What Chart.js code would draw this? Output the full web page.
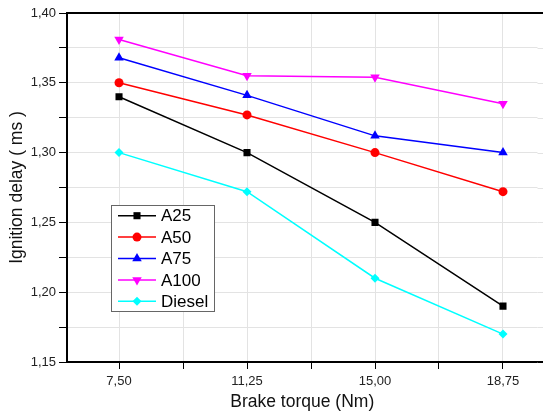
<!DOCTYPE html>
<html>
<head>
<meta charset="utf-8">
<script src="https://cdn.jsdelivr.net/npm/chart.js"></script>
<style>
html,body{margin:0;padding:0;background:#fff;overflow:hidden}
#wrap{position:relative;width:543px;height:411px}
</style>
</head>
<body>
<div id="wrap"><canvas id="grafico"></canvas></div>
<script>
// dados
const torque = [7.5, 11.25, 15.0, 18.75]
const gradeX = [7.5, 9.375, 11.25, 13.125, 15.0, 16.875, 18.75]
const a25 = [1.340, 1.300, 1.250, 1.190]
const a50 = [1.350, 1.327, 1.300, 1.272]
const a75 = [1.368, 1.341, 1.312, 1.300]
const a100 = [1.381, 1.355, 1.354, 1.335]
const diesel = [1.300, 1.272, 1.210, 1.170]
const nomes = ['A25', 'A50', 'A75', 'A100', 'Diesel']
const series = [a25, a50, a75, a100, diesel]

const cores = ['#000000', '#ff0000', '#0000ff', '#ff00ff', '#00ffff']
const marcadores = ['rect', 'circle', 'triangle', 'triangle', 'rectRot']
const rotacoes = [0, 0, 0, 180, 0]
const raios = [5, 4.5, 5.5, 5.5, 4.5]

const fonte = "'Liberation Sans', Arial, 'Noto Sans CJK SC', sans-serif"
const corGrade = '#e3e3e3'

function virgula(v){
  return v.toFixed(2).replace('.', ',')
}

const datasets = series.map(function(valores, i){
  return {
    label: nomes[i],
    data: valores.map(function(v, j){ return {x: torque[j], y: v} }),
    borderColor: cores[i],
    backgroundColor: cores[i],
    borderWidth: 1.5,
    pointStyle: marcadores[i],
    pointRotation: rotacoes[i],
    pointRadius: raios[i],
    pointHoverRadius: raios[i],
    pointBorderWidth: 0,
    tension: 0
  }
})

//Legenda, borda de cima e resto da grade até a borda
const legendaPlugin = {
  id: 'legenda',
  beforeDatasetsDraw(chart){
    const ctx = chart.ctx
    const area = chart.chartArea
    const sy = chart.scales.y
    ctx.save()
    ctx.strokeStyle = corGrade
    ctx.lineWidth = 1
    sy.ticks.forEach(function(t){
      const y = Math.round(sy.getPixelForValue(t.value)) + 0.5
      ctx.beginPath()
      ctx.moveTo(area.right, y)
      ctx.lineTo(chart.width, y)
      ctx.stroke()
    })
    ctx.restore()
  },
  afterDraw(chart){
    const ctx = chart.ctx
    const area = chart.chartArea
    ctx.save()
    ctx.strokeStyle = '#000'
    ctx.lineWidth = 2
    ctx.beginPath()
    ctx.moveTo(area.left - 1, area.top)
    ctx.lineTo(chart.width, area.top)
    ctx.stroke()
    ctx.beginPath()
    ctx.moveTo(area.right, area.bottom)
    ctx.lineTo(chart.width, area.bottom)
    ctx.stroke()

    const x0 = 111, y0 = 205, w = 103, h = 106
    ctx.fillStyle = '#fff'
    ctx.fillRect(x0, y0, w, h)
    ctx.strokeStyle = '#666'
    ctx.lineWidth = 1
    ctx.strokeRect(x0 + 0.5, y0 + 0.5, w, h)

    ctx.font = '17px ' + fonte
    ctx.textBaseline = 'middle'
    for (let i = 0; i < nomes.length; i++) {
      const y = 215.7 + i * 21.4
      ctx.strokeStyle = cores[i]
      ctx.lineWidth = 1.5
      ctx.beginPath()
      ctx.moveTo(118, y)
      ctx.lineTo(156, y)
      ctx.stroke()
      ctx.fillStyle = cores[i]
      Chart.helpers.drawPoint(ctx, {
        pointStyle: marcadores[i],
        rotation: rotacoes[i],
        radius: raios[i],
        borderWidth: 0
      }, 137, y)
      ctx.fillStyle = '#000'
      ctx.fillText(nomes[i], 161, y + 1)
    }
    ctx.restore()
  }
}

const ctx = document.getElementById('grafico')

const config = {
  type: 'line',
  data: { datasets: datasets },
  options: {
    responsive: true,
    maintainAspectRatio: false,
    animation: false,
    layout: { padding: { top: 13, right: 0, bottom: 0, left: 0 } },
    plugins: {
      legend: { display: false },
      tooltip: { enabled: false }
    },
    scales: {
      x: {
        type: 'linear',
        min: 5.976,
        max: 19.761,
        afterBuildTicks: function(scale){
          scale.ticks = gradeX.map(function(v){ return {value: v} })
        },
        afterFit: function(scale){
          scale.height = 49
        },
        ticks: {
          autoSkip: false,
          maxRotation: 0,
          padding: 5,
          color: '#222',
          font: { family: fonte, size: 13 },
          callback: function(v){
            return torque.indexOf(v) >= 0 ? virgula(v) : ''
          }
        },
        grid: { color: corGrade, tickColor: '#000', tickLength: 7, tickWidth: 1 },
        border: { color: '#000', width: 2 },
        title: {
          display: true,
          text: 'Brake torque (Nm)',
          color: '#111',
          font: { family: fonte, size: 17.5, lineHeight: 1 },
          padding: { top: 0, bottom: 0 }
        }
      },
      y: {
        min: 1.15,
        max: 1.40,
        afterFit: function(scale){
          scale.width = 67
        },
        ticks: {
          stepSize: 0.025,
          autoSkip: false,
          padding: 3,
          color: '#222',
          font: { family: fonte, size: 13 },
          callback: function(v){
            return Math.round(v * 1000) % 50 === 0 ? virgula(v) : ''
          }
        },
        grid: { color: corGrade, tickColor: '#000', tickLength: 8, tickWidth: 1 },
        border: { color: '#000', width: 2 },
        title: {
          display: true,
          text: 'Ignition delay ( ms )',
          color: '#111',
          font: { family: fonte, size: 17.5, lineHeight: 1 },
          padding: { top: 8, bottom: 0 }
        }
      }
    }
  },
  plugins: [legendaPlugin]
}

const myChart = new Chart(ctx, config)
</script>
</body>
</html>
